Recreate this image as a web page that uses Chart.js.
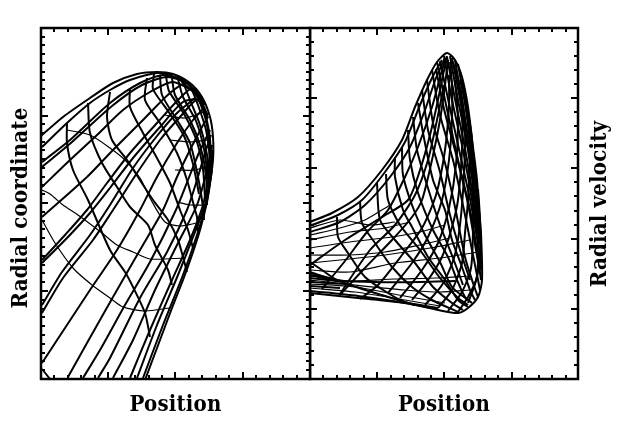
<!DOCTYPE html>
<html>
<head>
<meta charset="utf-8">
<title>Radial coordinate and velocity against position</title>
<script src="https://cdn.jsdelivr.net/npm/chart.js@4"></script>
<style>
  body { margin: 0; background: #fff; }
  canvas { position: absolute; top: 0; }
  #leftChart { left: 0; }
  #rightChart { left: 309px; }
</style>
</head>
<body>
<canvas id="leftChart" width="312" height="426"></canvas>
<canvas id="rightChart" width="314" height="426"></canvas>
<script>
"use strict";

const leftRising = [
  [0,243, 22,262, 49,281, 72,296, 96,305, 116,307, 132,305, 149,296, 161,282, 169,262, 172,242, 172,219, 169,196, 166,177, 159,149, 151,124, 142,99, 131,71, 119,39, 104,-1],
  [1,232, 26,256, 49,276, 69,289, 89,299, 116,306, 132,304],
  [1,217, 29,239, 69,276, 99,296, 122,304, 142,299, 156,287],
  [1,212, 31,237, 71,273, 101,294, 126,302, 146,296, 159,282],
  [1,192, 29,219, 56,244, 82,269, 109,287, 132,297, 154,287],
  [1,162, 46,202, 72,229, 102,259, 129,286, 146,296, 159,279],
  [1,119, 24,144, 46,169, 66,196, 89,226, 116,256, 139,281, 152,291, 164,274],
  [1,116, 26,141, 49,166, 69,191, 92,221, 119,252, 142,277, 159,279, 167,261],
  [1,74, 21,107, 49,144, 69,174, 92,211, 116,243, 136,266, 154,281],
  [1,66, 22,101, 52,139, 72,169, 96,206, 119,239, 139,262, 156,279, 167,264],
  [1,16, 49,89, 76,129, 99,169, 116,202, 136,236, 152,259, 164,272],
  [27,2, 46,36, 72,82, 99,129, 122,169, 136,202, 149,229, 161,252, 167,262],
  [42,1, 59,29, 84,74, 109,117, 134,167, 147,199, 157,224, 169,249],
  [57,1, 69,21, 99,81, 126,127, 146,169, 156,199, 164,226, 170,244],
  [72,1, 92,39, 114,89, 136,134, 156,174, 166,209, 171,234],
  [89,1, 109,49, 131,99, 149,139, 162,174, 169,209, 172,229],
  [96,1, 116,54, 137,104, 154,147, 164,174, 170,204],
  [102,1, 122,54, 142,104, 156,144, 166,179, 171,209],
  [149,292, 160,278, 166,258, 169,240, 170,215, 168,195],
  [140,298, 155,284, 164,262, 168,240, 169,210]
];
const leftFalling = [
  [1,10, 9,0],
  [26,256, 26,236, 32,209, 47,179, 69,129, 84,107, 92,92, 104,66, 109,42],
  [47,276, 49,246, 61,216, 76,192, 89,172, 107,154, 114,134, 127,109, 131,94],
  [69,287, 66,262, 71,239, 86,219, 97,202, 112,179, 127,159, 137,139, 142,122, 146,107],
  [89,291, 89,272, 102,246, 117,219, 129,196, 139,169, 147,149, 152,131],
  [106,301, 104,279, 119,256, 136,226, 146,199, 154,169, 156,162, 157,146],
  [113,305, 112,290, 127,268, 143,243, 152,215, 158,185],
  [119,304, 121,284, 136,259, 149,236, 157,202, 162,172, 163,159],
  [125,303, 128,288, 143,265, 155,240, 162,210, 164,180],
  [131,301, 134,284, 149,259, 159,234, 165,204, 166,174],
  [137,300, 142,282, 155,258, 163,230, 167,200],
  [142,297, 149,279, 159,254, 166,224, 168,194],
  [149,294, 157,274, 165,249, 169,219, 169,194]
];
const leftArcs = [
  [1,159, 14,136, 32,111, 51,94, 69,81, 82,72, 104,68, 129,71],
  [1,189, 9,185, 22,174, 37,164, 61,146, 76,134, 92,127, 109,120, 144,121],
  [26,249, 49,244, 69,231, 84,219, 99,201, 109,181, 124,157, 139,153, 156,156],
  [136,177, 149,174, 164,174],
  [134,209, 154,209, 169,214],
  [129,239, 149,237, 166,239],
  [124,264, 144,261, 163,267]
];

const rightRising = [
  [0,157, 22,166, 48,182, 72,209, 92,239, 105,272, 117,299, 127,317, 137,326, 145,319, 152,302, 158,272, 163,232, 167,199, 169,169, 171,146, 172,99, 168,82, 158,71, 148,66, 128,69, 95,76, 48,81, 0,86],
  [2,154, 28,164, 52,179, 75,207, 95,237, 110,274, 122,301, 132,319],
  [0,147, 30,157, 55,174, 80,202, 100,232, 115,269, 126,301, 135,321],
  [12,90, 35,118, 57,147, 78,169, 95,202, 108,232, 122,272, 132,309, 137,323],
  [0,114, 35,139, 72,162, 98,179, 110,209, 120,244, 128,279, 133,304, 137,321],
  [30,85, 60,129, 85,154, 105,184, 118,219, 127,259, 134,294],
  [30,84, 53,109, 82,139, 102,162, 112,179, 122,219, 130,259, 135,294, 138,319],
  [50,80, 68,94, 92,124, 112,151, 126,184, 135,229, 139,274, 139,304],
  [78,86, 102,116, 118,142, 132,179, 139,219, 142,259, 142,294, 140,317],
  [90,81, 112,109, 128,136, 139,171, 146,214, 148,259, 145,299],
  [102,79, 118,99, 132,122, 142,152, 148,179, 152,229, 152,269, 148,299, 143,317],
  [115,74, 132,94, 144,121, 150,154, 154,204, 155,254, 151,289],
  [128,71, 142,89, 152,116, 155,146, 158,179, 160,229, 156,274, 150,299],
  [138,68, 152,87, 161,111, 163,149, 163,189, 162,239, 156,279],
  [148,67, 158,82, 167,102, 168,146, 167,179],
  [158,76, 165,95, 170,120, 170,160, 168,190]
];
const rightFalling = [
  [27,162, 28,142, 38,126, 55,102, 78,86, 95,77, 128,71],
  [50,178, 52,156, 65,136, 82,112, 102,92, 122,79, 148,67],
  [67,196, 70,159, 85,139, 105,116, 123,92, 142,76, 153,69],
  [76,205, 78,179, 90,154, 110,129, 130,101, 148,81, 158,74],
  [85,222, 85,202, 93,169, 102,152, 118,122, 135,99, 148,79, 158,72],
  [92,232, 93,204, 102,174, 115,144, 130,117, 142,92, 158,79],
  [98,249, 100,219, 108,186, 123,149, 138,122, 147,99, 155,82, 162,76],
  [103,262, 107,229, 117,194, 130,154, 143,121, 153,94],
  [108,276, 113,246, 123,199, 135,169, 142,139, 152,112, 160,89, 165,79],
  [112,289, 118,249, 130,207, 140,164, 150,129, 160,99],
  [117,299, 123,256, 135,216, 145,172, 155,122, 163,96, 168,82],
  [122,309, 130,264, 143,219, 154,169, 162,129, 168,99, 170,89],
  [126,310, 134,270, 146,225, 158,175, 165,135, 170,105],
  [127,317, 135,279, 148,219, 160,169, 167,129, 171,99],
  [130,318, 138,280, 150,225, 161,175, 168,135],
  [134,323, 142,279, 153,229, 162,179, 168,139, 171,109],
  [137,322, 145,280, 156,225, 164,175, 169,135],
  [140,323, 148,279, 158,229, 165,179, 170,139],
  [142,321, 150,280, 159,225, 166,175, 171,130],
  [145,319, 152,279, 160,229, 167,179, 170,139],
  [148,315, 155,275, 162,225, 168,175, 171,135],
  [152,300, 158,265, 164,220, 169,170]
];
const rightFan = [
  [0,151, 30,159, 60,154, 85,157],
  [0,144, 30,151, 55,159, 80,174],
  [0,139, 40,147, 75,151, 100,157],
  [0,131, 40,137, 82,142, 110,147, 135,154],
  [0,124, 40,124, 75,127, 110,134, 140,141],
  [0,116, 30,119, 75,124, 120,131, 160,139],
  [0,109, 40,107, 85,116, 130,121, 168,127],
  [0,103, 35,98, 85,100, 127,101, 160,103],
  [0,99, 45,94, 95,89, 130,87, 160,89],
  [0,95, 45,92, 100,82, 135,76],
  [0,91, 45,87, 95,79, 130,73]
];
const rightBand = [
  [0,117, 12,109, 27,99, 62,87, 105,74],
  [0,107, 25,99, 65,97, 110,97, 145,98],
  [0,106, 27,99],
  [0,104, 30,98],
  [0,101, 35,97],
  [0,97, 35,95],
  [0,93, 30,91],
  [0,88, 48,83, 95,76, 128,70]
];

const xMajorTicks = [67, 134, 202];
const xMinorTicks = [13, 27, 40, 54, 81, 94, 108, 121, 148, 161, 175, 188, 215, 229, 242, 256];
const leftYMajorTicks = [88, 176, 263];
const leftYMinorTicks = [9, 18, 26, 35, 44, 53, 62, 70, 79, 97, 106, 114, 123, 132, 141, 150, 158, 167, 185, 194, 202, 211, 220, 229, 237, 246, 255, 272, 281, 290, 299, 307, 316, 325, 334, 342];
const rightYMajorTicks = [70, 140, 211, 281];
const rightYMinorTicks = [14, 28, 42, 56, 84, 98, 112, 126, 154, 168, 183, 197, 225, 239, 253, 267, 295, 309, 323, 337];

const labelFont = { family: "'DejaVu Serif Condensed', 'DejaVu Serif'", size: 22, weight: "bold" };

function makeDataset(line, width) {
  const points = [];
  for (let i = 0; i < line.length; i += 2) {
    points.push({ x: line[i], y: line[i + 1] });
  }
  return {
    data: points,
    showLine: true,
    borderColor: "#000",
    borderWidth: width,
    pointRadius: 0,
    tension: 0.25,
  };
}

// frame, inward ticks and the upright y label, placed through the chart's own scales
const frameTicks = {
  id: "frameTicks",
  beforeDraw(chart) {
    chart.ctx.letterSpacing = "0.2px";
  },
  afterDatasetsDraw(chart, args, opts) {
    const { ctx, chartArea: a, scales } = chart;
    ctx.save();
    ctx.strokeStyle = "#000";
    ctx.lineWidth = 2.5;
    ctx.strokeRect(a.left, a.top, a.right - a.left, a.bottom - a.top);
    ctx.lineWidth = 2;

    function xTicks(values, len) {
      values.forEach((v) => {
        const px = scales.x.getPixelForValue(v);
        ctx.beginPath();
        ctx.moveTo(px, a.top);
        ctx.lineTo(px, a.top + len);
        ctx.moveTo(px, a.bottom);
        ctx.lineTo(px, a.bottom - len);
        ctx.stroke();
      });
    }
    function yTicks(values, len) {
      values.forEach((v) => {
        const py = scales.y.getPixelForValue(v);
        ctx.beginPath();
        ctx.moveTo(a.left, py);
        ctx.lineTo(a.left + len, py);
        ctx.moveTo(a.right, py);
        ctx.lineTo(a.right - len, py);
        ctx.stroke();
      });
    }
    xTicks(xMinorTicks, 4);
    xTicks(xMajorTicks, 7);
    yTicks(opts.yMinor, 4);
    yTicks(opts.yMajor, 7);

    // chart.js turns a right hand title the other way, so both are drawn here
    ctx.translate(opts.yTitleX, opts.yTitleY);
    ctx.rotate(-Math.PI / 2);
    ctx.font = "bold 22px " + labelFont.family;
    ctx.fillStyle = "#000";
    ctx.textAlign = "center";
    ctx.textBaseline = "middle";
    ctx.fillText(opts.yTitle, 0, 0);
    ctx.restore();
  },
};

function makePanel(id, datasets, settings) {
  return new Chart(document.getElementById(id), {
    type: "scatter",
    data: { datasets: datasets },
    options: {
      responsive: false,
      animation: false,
      layout: { padding: settings.padding },
      plugins: {
        legend: { display: false },
        tooltip: { enabled: false },
        frameTicks: {
          yMajor: settings.yMajor,
          yMinor: settings.yMinor,
          yTitle: settings.yTitle,
          yTitleX: settings.yTitleX,
          yTitleY: settings.yTitleY,
        },
      },
      scales: {
        x: {
          type: "linear",
          min: 0,
          max: settings.xMax,
          grid: { display: false },
          border: { display: false },
          ticks: { display: false },
          title: { display: true, text: "Position", color: "#000", font: labelFont, padding: { top: 0, bottom: 8 } },
          afterFit(scale) {
            scale.height = 47;
          },
        },
        y: {
          type: "linear",
          position: settings.yPosition,
          min: 0,
          max: 351,
          grid: { display: false },
          border: { display: false },
          ticks: { display: false },
          afterFit(scale) {
            scale.width = settings.yWidth;
          },
        },
      },
    },
    plugins: [frameTicks],
  });
}

const leftSets = [];
leftRising.forEach((l) => leftSets.push(makeDataset(l, 2)));
leftFalling.forEach((l) => leftSets.push(makeDataset(l, 2)));
leftArcs.forEach((l) => leftSets.push(makeDataset(l, 1.2)));

const rightSets = [];
rightRising.forEach((l) => rightSets.push(makeDataset(l, 2)));
rightFalling.forEach((l) => rightSets.push(makeDataset(l, 2)));
rightFan.forEach((l) => rightSets.push(makeDataset(l, 1.2)));
rightBand.forEach((l) => rightSets.push(makeDataset(l, 2)));

makePanel("leftChart", leftSets, {
  padding: { top: 28, right: 2 },
  xMax: 269,
  yPosition: "left",
  yTitle: "Radial coordinate",
  yTitleX: 21,
  yTitleY: 208,
  yWidth: 41,
  yMajor: leftYMajorTicks,
  yMinor: leftYMinorTicks,
});

makePanel("rightChart", rightSets, {
  padding: { top: 28, left: 1 },
  xMax: 268,
  yPosition: "right",
  yTitle: "Radial velocity",
  yTitleX: 291,
  yTitleY: 204,
  yWidth: 45,
  yMajor: rightYMajorTicks,
  yMinor: rightYMinorTicks,
});
</script>
</body>
</html>
